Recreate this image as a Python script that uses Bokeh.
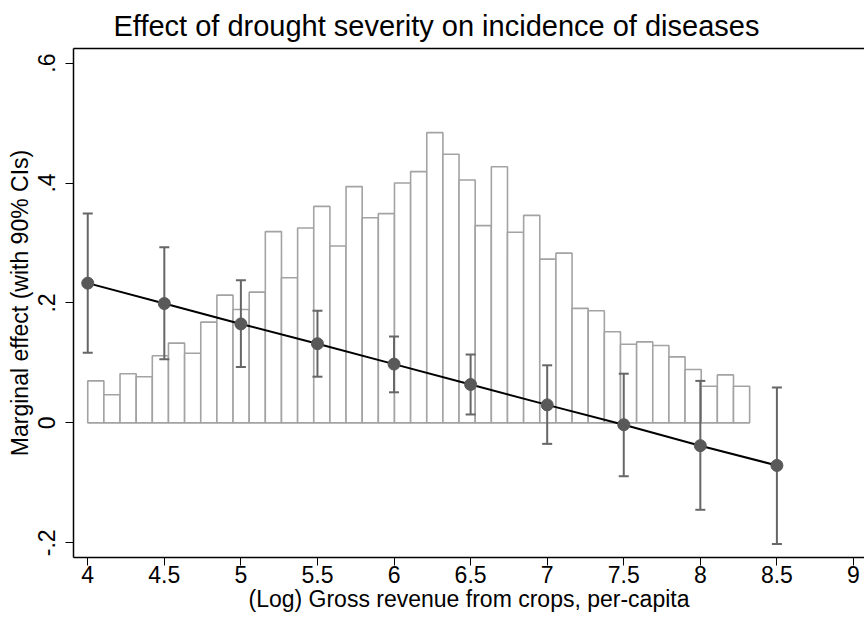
import numpy as np
from bokeh.plotting import figure
from bokeh.models import ColumnDataSource, Range1d, FixedTicker, LinearAxis
from bokeh.embed import file_html
from bokeh.resources import INLINE

# ---- data ----
hist_start = 4.0
hist_end = 8.322
hist_heights = [0.070, 0.047, 0.082, 0.077, 0.112, 0.133, 0.116, 0.168, 0.213, 0.189,
                0.218, 0.319, 0.242, 0.325, 0.361, 0.295, 0.394, 0.342, 0.349, 0.400,
                0.419, 0.484, 0.448, 0.405, 0.329, 0.427, 0.318, 0.346, 0.273, 0.283,
                0.191, 0.187, 0.152, 0.131, 0.135, 0.129, 0.110, 0.089, 0.061, 0.080,
                0.061]

x_points = [4.0, 4.5, 5.0, 5.5, 6.0, 6.5, 7.0, 7.5, 8.0, 8.5]
effect = [0.233, 0.199, 0.165, 0.132, 0.098, 0.064, 0.030, -0.003, -0.038, -0.071]
ci_upper = [0.349, 0.293, 0.238, 0.187, 0.144, 0.114, 0.096, 0.082, 0.070, 0.059]
ci_lower = [0.117, 0.106, 0.093, 0.077, 0.051, 0.014, -0.035, -0.089, -0.145, -0.202]

x_tick_values = [4, 4.5, 5, 5.5, 6, 6.5, 7, 7.5, 8, 8.5, 9]
x_tick_labels = ["4", "4.5", "5", "5.5", "6", "6.5", "7", "7.5", "8", "8.5", "9"]
y_tick_values = [-0.2, 0, 0.2, 0.4, 0.6]
y_tick_labels = ["-.2", "0", ".2", ".4", ".6"]

title_text = "Effect of drought severity on incidence of diseases"
x_label = "(Log) Gross revenue from crops, per-capita"
y_label = "Marginal effect (with 90% CIs)"

FONT = "Liberation Sans"
LABEL_SIZE = "23px"

p = figure(width=864, height=619, output_backend="svg", toolbar_location=None,
           x_range=Range1d(3.907, 9.072), y_range=Range1d(-0.2245, 0.6243),
           min_border_left=73, min_border_right=0, min_border_top=48,
           min_border_bottom=62)

p.title.text = title_text
p.title.align = "left"
p.title.offset = 40
p.title.text_font = FONT
p.title.text_font_size = "29px"
p.title.text_font_style = "normal"
p.title.text_color = "black"
p.title.standoff = 13

p.outline_line_color = None
p.xgrid.grid_line_color = None
p.ygrid.grid_line_color = None
p.background_fill_color = "white"
p.border_fill_color = "white"

# histogram
edges = np.linspace(hist_start, hist_end, len(hist_heights) + 1)
hsrc = ColumnDataSource(dict(left=edges[:-1], right=edges[1:],
                             top=hist_heights, bottom=[0] * len(hist_heights)))
p.quad(left="left", right="right", top="top", bottom="bottom", source=hsrc,
       fill_color="white", line_color="#a3a3a3", line_width=1.6)

# fitted line
src = ColumnDataSource(dict(x=x_points, y=effect, upper=ci_upper, lower=ci_lower))
p.line("x", "y", source=src, line_color="black", line_width=2)

# confidence intervals (drawn above the bars)
ci_color = "#666666"
p.segment(x0="x", y0="lower", x1="x", y1="upper", source=src,
          line_color=ci_color, line_width=2)
p.scatter("x", "upper", source=src, marker="dash", size=10,
          line_color=ci_color, line_width=2)
p.scatter("x", "lower", source=src, marker="dash", size=10,
          line_color=ci_color, line_width=2)

p.scatter("x", "y", source=src, size=12, fill_color="#595959",
          line_color="#595959")

# axes
for ax in (p.xaxis[0], p.yaxis[0]):
    ax.axis_line_color = "black"
    ax.axis_line_width = 1.5
    ax.major_tick_line_color = "black"
    ax.major_tick_line_width = 1
    ax.major_tick_out = 8
    ax.major_tick_in = 0
    ax.minor_tick_line_color = None
    ax.major_label_text_font = FONT
    ax.major_label_text_font_size = LABEL_SIZE
    ax.major_label_text_color = "black"
    ax.axis_label_text_font = FONT
    ax.axis_label_text_font_size = LABEL_SIZE
    ax.axis_label_text_font_style = "normal"
    ax.axis_label_text_color = "black"

p.xaxis[0].ticker = FixedTicker(ticks=x_tick_values)
p.xaxis[0].major_label_overrides = dict(zip(x_tick_values, x_tick_labels))
p.xaxis[0].axis_label = x_label
p.xaxis[0].major_label_standoff = 0
p.xaxis[0].axis_label_standoff = 0

p.yaxis[0].ticker = FixedTicker(ticks=y_tick_values)
p.yaxis[0].major_label_overrides = dict(zip(y_tick_values, y_tick_labels))
p.yaxis[0].major_label_orientation = "vertical"
p.yaxis[0].axis_label = y_label
p.yaxis[0].major_label_standoff = 10
p.yaxis[0].axis_label_standoff = 3

# top border of the plot region
top_ax = LinearAxis(ticker=FixedTicker(ticks=[]), axis_line_color="black",
                    axis_line_width=1.5, major_tick_line_color=None,
                    minor_tick_line_color=None, major_tick_out=0,
                    major_label_standoff=0)
p.add_layout(top_ax, "above")

open("out.html", "w").write(file_html(p, INLINE))
